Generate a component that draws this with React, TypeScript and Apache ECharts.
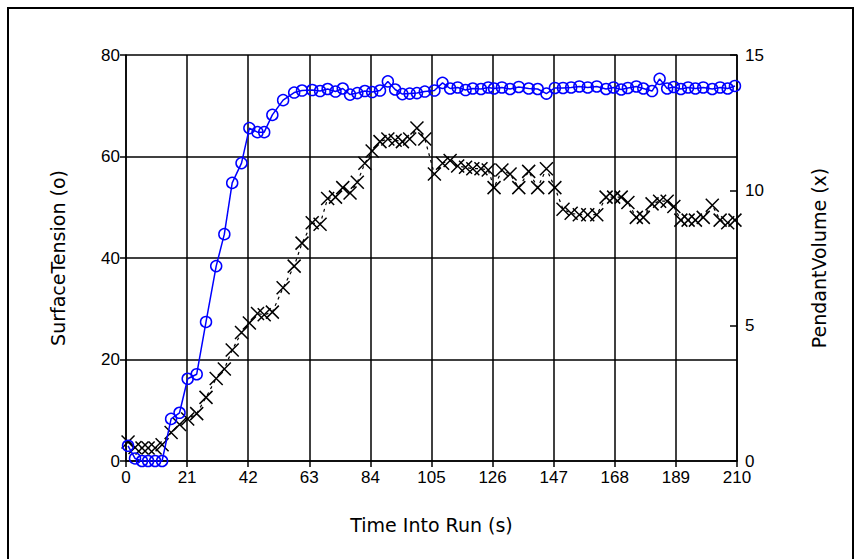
import React, { useEffect, useRef } from "react";
import * as echarts from "echarts";

const timeS = [0.7, 3.1, 5.5, 7.6, 10, 12.4, 15.5, 18.4, 21.2, 24.3, 27.5, 31, 33.8, 36.5, 39.7, 42.4, 45.2, 47.5, 50.3, 54, 57.8, 60.5, 64, 66.7, 69.3, 72, 74.5, 77, 79.5, 82.1, 84.6, 87.3, 90, 92.5, 95, 97.5, 100, 102.7, 106, 108.8, 111.4, 114, 116.7, 119.2, 122, 124.5, 126.5, 129.2, 132, 135, 138.4, 141.5, 144.5, 147.4, 150.2, 153, 155.8, 158.7, 161.8, 165, 167.6, 170.2, 172.5, 175.4, 177.8, 180.8, 183.4, 186, 188.3, 190.7, 193.2, 195.7, 198.4, 201.5, 204.2, 206.8, 209.3];

const surfaceTension = [3, 0.5, 0, 0, 0, 0, 8.3, 9.5, 16.2, 17.1, 27.4, 38.4, 44.7, 54.8, 58.7, 65.6, 64.8, 64.8, 68.2, 71.1, 72.6, 73, 73.1, 72.9, 73.3, 72.8, 73.4, 72.2, 72.5, 72.9, 72.7, 73.0, 74.8, 73.2, 72.3, 72.4, 72.5, 72.8, 73.0, 74.5, 73.4, 73.6, 73.1, 73.4, 73.3, 73.6, 73.4, 73.6, 73.3, 73.7, 73.4, 73.3, 72.4, 73.5, 73.5, 73.6, 73.8, 73.6, 73.8, 73.3, 73.6, 73.2, 73.5, 73.8, 73.4, 72.9, 75.3, 73.4, 73.7, 73.3, 73.6, 73.4, 73.6, 73.3, 73.6, 73.4, 73.9];

const pendantVolume = [0.7, 0.5, 0.48, 0.48, 0.48, 0.6, 1.05, 1.35, 1.55, 1.75, 2.35, 3.05, 3.4, 4.1, 4.75, 5.1, 5.45, 5.4, 5.5, 6.4, 7.2, 8.05, 8.8, 8.75, 9.7, 9.75, 10.1, 9.9, 10.3, 11.0, 11.45, 11.8, 11.9, 11.85, 11.8, 11.9, 12.3, 11.9, 10.6, 11.0, 11.1, 10.9, 10.85, 10.8, 10.8, 10.75, 10.1, 10.75, 10.6, 10.1, 10.7, 10.1, 10.8, 10.1, 9.3, 9.15, 9.1, 9.1, 9.1, 9.75, 9.75, 9.75, 9.55, 9.0, 9.0, 9.5, 9.6, 9.6, 9.4, 8.9, 8.9, 8.9, 9.0, 9.45, 8.9, 8.8, 8.9];

const xTitle = "Time Into Run (s)";
const leftTitle = "SurfaceTension (o)";
const rightTitle = "PendantVolume (x)";

export default function App() {
  const ref = useRef<HTMLDivElement>(null);
  useEffect(() => {
    if (!ref.current) return;
    const chart = echarts.init(ref.current, undefined, { renderer: "svg" });
    const lbl = { color: "#000", fontFamily: "Liberation Sans, Arial", fontSize: 17 };
    const nameStyle = { color: "#000", fontFamily: "DejaVu Sans, Arial", fontSize: 19 };
    const line = { lineStyle: { color: "#000", width: 1.5 } };
    chart.setOption({
      animation: false,
      backgroundColor: "#fff",
      graphic: [
        {
          type: "rect",
          shape: { x: 8, y: 8, width: 845, height: 600 },
          style: { fill: "none", stroke: "#000", lineWidth: 2 },
          silent: true,
        },
      ],
      grid: { left: 126, right: 124, top: 55, bottom: 98 },
      xAxis: {
        type: "value",
        min: 0,
        max: 210,
        interval: 21,
        name: xTitle,
        nameLocation: "middle",
        nameGap: 54,
        nameTextStyle: nameStyle,
        axisLine: { show: true, onZero: false, ...line },
        axisTick: { show: true, length: 6, ...line },
        axisLabel: { ...lbl, margin: 8 },
        splitLine: { show: true, ...line },
      },
      yAxis: [
        {
          type: "value",
          min: 0,
          max: 80,
          interval: 20,
          position: "left",
          name: leftTitle,
          nameLocation: "middle",
          nameGap: 59,
          nameTextStyle: nameStyle,
          axisLine: { show: true, ...line },
          axisTick: { show: true, length: 6, ...line },
          axisLabel: { ...lbl, margin: 6 },
          splitLine: { show: true, ...line },
        },
        {
          type: "value",
          min: 0,
          max: 15,
          interval: 5,
          position: "right",
          name: rightTitle,
          nameLocation: "middle",
          nameGap: 72,
          nameTextStyle: nameStyle,
          axisLine: { show: true, ...line },
          axisTick: { show: true, inside: true, length: 7, ...line },
          axisLabel: { ...lbl, margin: 8 },
          splitLine: { show: false },
        },
      ],
      series: [
        {
          type: "line",
          yAxisIndex: 1,
          data: timeS.map((t, i) => [t, pendantVolume[i]]),
          symbol: "path://M0,0L10,10M10,0L0,10",
          symbolSize: 13,
          showAllSymbol: true,
          lineStyle: { color: "#000", width: 1.2, type: [3, 4] },
          itemStyle: { color: "rgba(0,0,0,0)", borderColor: "#000", borderWidth: 1.5 },
          z: 2,
        },
        {
          type: "line",
          yAxisIndex: 0,
          data: timeS.map((t, i) => [t, surfaceTension[i]]),
          symbol: "circle",
          symbolSize: 11,
          showAllSymbol: true,
          lineStyle: { color: "#0000ff", width: 1.5 },
          itemStyle: { color: "rgba(255,255,255,0)", borderColor: "#0000ff", borderWidth: 1.5 },
          z: 3,
        },
      ],
    });
    return () => chart.dispose();
  }, []);
  return (
    <div
      ref={ref}
      style={{ position: "fixed", left: 0, top: 0, width: 861, height: 559, background: "#fff" }}
    />
  );
}
